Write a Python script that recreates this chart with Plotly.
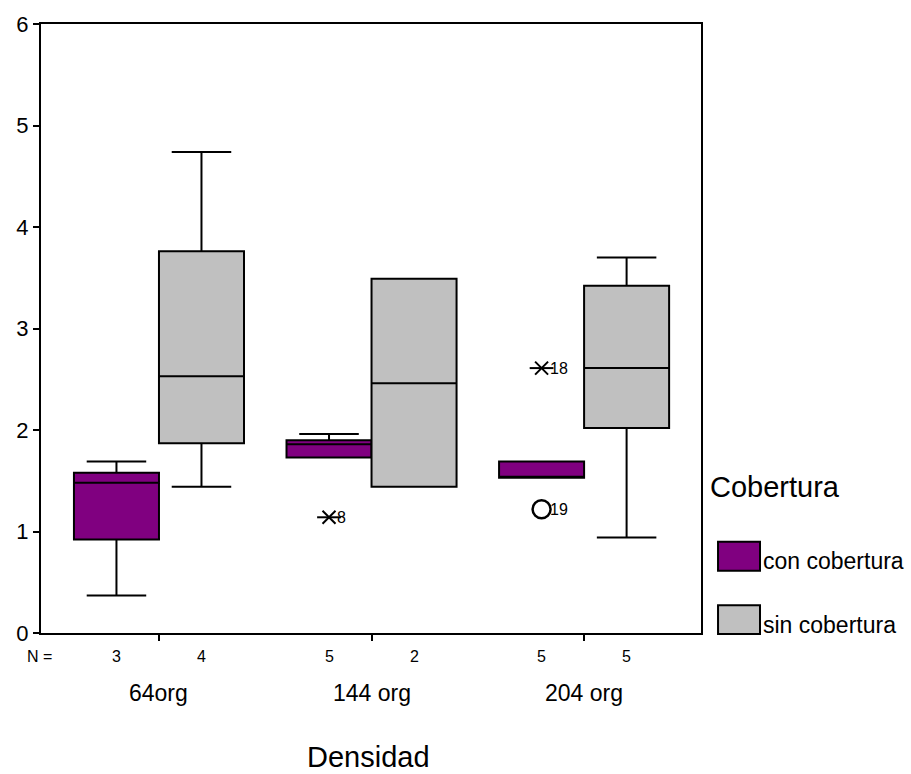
import plotly.graph_objects as go

# ---------------- data ----------------
groups = ["64org", "144 org", "204 org"]
series = ["con cobertura", "sin cobertura"]
colors = ["#800080", "#C0C0C0"]

# per series: one value per group
lower = {"con cobertura": [0.37, 1.73, 1.53], "sin cobertura": [1.44, 1.44, 0.94]}
q1 = {"con cobertura": [0.92, 1.73, 1.53], "sin cobertura": [1.87, 1.44, 2.02]}
median = {"con cobertura": [1.48, 1.86, 1.54], "sin cobertura": [2.53, 2.46, 2.61]}
q3 = {"con cobertura": [1.58, 1.90, 1.69], "sin cobertura": [3.76, 3.49, 3.42]}
upper = {"con cobertura": [1.69, 1.96, 1.69], "sin cobertura": [4.74, 3.49, 3.70]}
counts = {"con cobertura": [3, 5, 5], "sin cobertura": [4, 2, 5]}

# outliers (all in "con cobertura")
extreme_group = [1, 2]          # group index
extreme_value = [1.14, 2.61]
extreme_case = ["8", "18"]
outlier_group = [2]
outlier_value = [1.22]
outlier_case = ["19"]

y_ticks = [0, 1, 2, 3, 4, 5, 6]

FONT = "Liberation Sans, Arial, sans-serif"
offset = {"con cobertura": -0.2, "sin cobertura": 0.2}
box_w = 0.4

fig = go.Figure()

for s, c in zip(series, colors):
    xs = [i + offset[s] for i in range(len(groups))]
    fig.add_trace(go.Box(
        x=xs, q1=q1[s], median=median[s], q3=q3[s],
        lowerfence=lower[s], upperfence=upper[s],
        width=box_w, whiskerwidth=0.7,
        fillcolor=c, line=dict(color="black", width=2),
        name=s, showlegend=False, boxpoints=False,
    ))

ex_x = [g + offset["con cobertura"] for g in extreme_group]
fig.add_trace(go.Scatter(x=ex_x, y=extreme_value, mode="markers",
                         marker=dict(symbol="x-thin-open", size=13, color="black",
                                     line=dict(color="black", width=2)),
                         showlegend=False, hoverinfo="skip"))
fig.add_trace(go.Scatter(x=ex_x, y=extreme_value, mode="markers",
                         marker=dict(symbol="line-ew-open", size=17, color="black",
                                     line=dict(color="black", width=2)),
                         showlegend=False, hoverinfo="skip"))
out_x = [g + offset["con cobertura"] for g in outlier_group]
fig.add_trace(go.Scatter(x=out_x, y=outlier_value, mode="markers",
                         marker=dict(symbol="circle-open", size=18, color="black",
                                     line=dict(color="black", width=2.5)),
                         showlegend=False, hoverinfo="skip"))

annotations = []
for x, y, t in zip(ex_x + out_x, extreme_value + outlier_value, extreme_case + outlier_case):
    annotations.append(dict(x=x, y=y, xref="x", yref="y", text=t, showarrow=False,
                            xanchor="left", yanchor="middle", xshift=6,
                            font=dict(family=FONT, size=16, color="black")))

# N counts
annotations.append(dict(x=0, y=0, xref="paper", yref="paper", text="N =", showarrow=False,
                        xanchor="center", yanchor="middle", xshift=-2, yshift=-23,
                        font=dict(family=FONT, size=16, color="black")))
for s in series:
    for i, n in enumerate(counts[s]):
        annotations.append(dict(x=i + offset[s], y=0, xref="x", yref="paper", text=str(n),
                                showarrow=False, xanchor="center", yanchor="middle",
                                yshift=-23, font=dict(family=FONT, size=16, color="black")))
# category labels
for i, g in enumerate(groups):
    annotations.append(dict(x=i, y=0, xref="x", yref="paper", text=g, showarrow=False,
                            xanchor="center", yanchor="middle", yshift=-60,
                            font=dict(family=FONT, size=23, color="black")))
# axis title
annotations.append(dict(x=1, y=0, xref="x", yref="paper", text="Densidad", showarrow=False,
                        xanchor="center", yanchor="middle", xshift=-3, yshift=-124,
                        font=dict(family=FONT, size=29, color="black")))

# legend (drawn manually)
annotations.append(dict(x=1, y=0.24, xref="paper", yref="paper", text="Cobertura",
                        showarrow=False, xanchor="left", yanchor="middle", xshift=7,
                        font=dict(family=FONT, size=29, color="black")))
shapes = []
leg_rows = [(0.1024, 0.150), (-0.0016, 0.0455)]
for (y0, y1), s, c in zip(leg_rows, series, colors):
    shapes.append(dict(type="rect", xref="paper", yref="paper", x0=1.0258, x1=1.0894,
                       y0=y0, y1=y1, fillcolor=c, line=dict(color="black", width=2)))
    annotations.append(dict(x=1.0894, y=(y0 + y1) / 2, xref="paper", yref="paper", text=s,
                            showarrow=False, xanchor="left", yanchor="middle", xshift=1, yshift=-5,
                            font=dict(family=FONT, size=23, color="black")))

fig.update_layout(
    width=911, height=774,
    margin=dict(l=41, r=210, t=18, b=141),
    paper_bgcolor="white", plot_bgcolor="white",
    boxmode="overlay",
    font=dict(family=FONT, color="black"),
    annotations=annotations, shapes=shapes,
    showlegend=False,
)
fig.update_xaxes(range=[-0.555, 2.55], tickvals=[0, 1, 2], showticklabels=False,
                 ticks="outside", ticklen=6, tickwidth=2, tickcolor="black",
                 showline=True, linewidth=2, linecolor="black", mirror=True,
                 showgrid=False, zeroline=False)
fig.update_yaxes(range=[0, 6], tickvals=y_ticks, ticks="outside", ticklen=6, tickwidth=2,
                 tickcolor="black", showline=True, linewidth=2, linecolor="black", mirror=True,
                 showgrid=False, zeroline=False, tickfont=dict(family=FONT, size=22, color="black"))

fig.write_html("out.html")
